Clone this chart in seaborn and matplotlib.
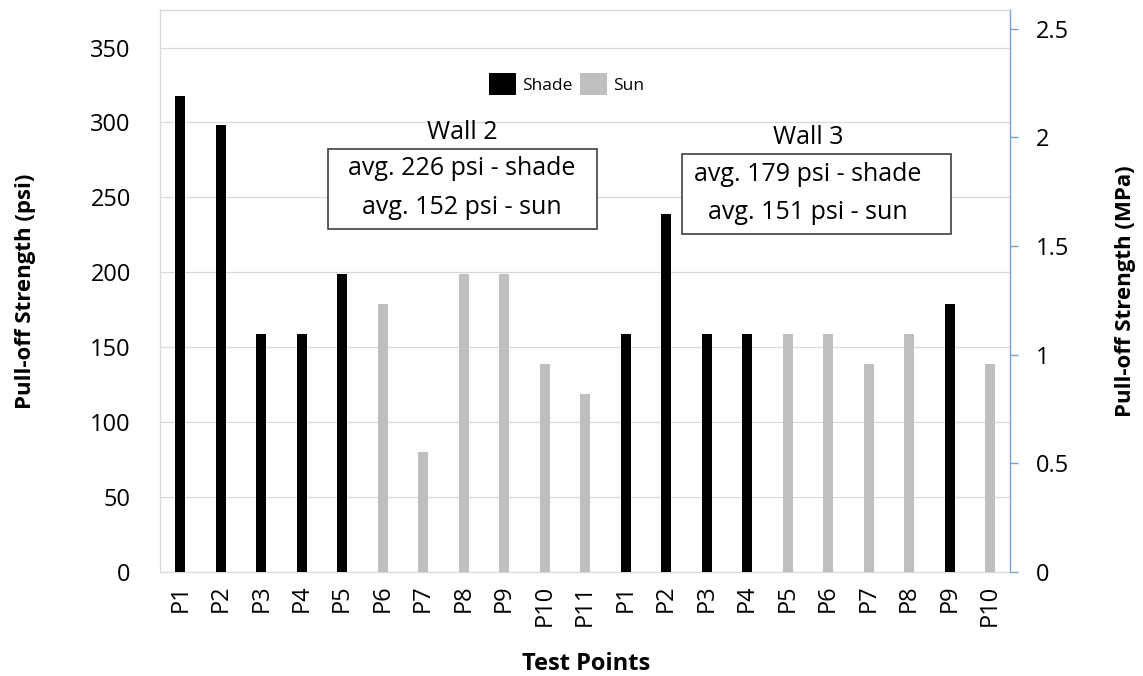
import matplotlib
matplotlib.use("Agg")
import matplotlib.pyplot as plt
from matplotlib.patches import Patch, Rectangle
import pandas as pd
import seaborn as sns

# Test points on Wall 2 (P1-P11) followed by Wall 3 (P1-P10)
point_labels = ["P1", "P2", "P3", "P4", "P5", "P6", "P7", "P8", "P9", "P10", "P11",
                "P1", "P2", "P3", "P4", "P5", "P6", "P7", "P8", "P9", "P10"]
strength_psi = [318, 298, 159, 159, 199, 179, 80, 199, 199, 139, 119,
                159, 239, 159, 159, 159, 159, 139, 159, 179, 139]
exposure = ["Shade", "Shade", "Shade", "Shade", "Shade", "Sun", "Sun", "Sun", "Sun", "Sun", "Sun",
            "Shade", "Shade", "Shade", "Shade", "Sun", "Sun", "Sun", "Sun", "Shade", "Sun"]
psi_ticks = [0, 50, 100, 150, 200, 250, 300, 350]
mpa_ticks = [0, 0.5, 1, 1.5, 2, 2.5]
mpa_tick_labels = ["0", "0.5", "1", "1.5", "2", "2.5"]
wall_titles = ["Wall 2", "Wall 3"]
wall_lines = [["avg. 226 psi - shade", "avg. 152 psi - sun"],
              ["avg. 179 psi - shade", "avg. 151 psi - sun"]]
PSI_PER_MPA = 145.038

sns.set_theme(style="white")
plt.rcParams["font.family"] = ["Open Sans", "DejaVu Sans"]
plt.rcParams["text.color"] = "black"
plt.rcParams["axes.labelcolor"] = "black"

df = pd.DataFrame({"pos": range(len(point_labels)),
                   "psi": strength_psi,
                   "exposure": exposure})

colors = {"Shade": "#000000", "Sun": "#bfbfbf"}
grid_gray = "#d9d9d9"
axis_blue = "#7a9fd4"

fig, ax = plt.subplots(figsize=(11.43, 6.76), dpi=100)
fig.subplots_adjust(left=0.140, right=0.884, bottom=0.154, top=0.985)

sns.barplot(data=df, x="pos", y="psi", hue="exposure", hue_order=["Shade", "Sun"],
            palette=colors, dodge=False, width=0.25, saturation=1,
            linewidth=0, legend=False, ax=ax, zorder=3)

ax.set_ylim(0, 375)
ax.set_yticks(psi_ticks)
ax.yaxis.grid(True, color=grid_gray, linewidth=0.9, zorder=0)
ax.set_axisbelow(True)
ax.set_xticks(range(len(point_labels)))
ax.set_xticklabels(point_labels, rotation=90, fontsize=17)
ax.tick_params(axis="y", labelsize=17, length=0, pad=21, labelcolor="black")
ax.tick_params(axis="x", length=0, pad=9, labelcolor="black")
for side in ["left", "bottom", "top"]:
    ax.spines[side].set_color(grid_gray)
    ax.spines[side].set_linewidth(0.9)
ax.spines["right"].set_visible(False)

ax.set_xlabel("Test Points", fontsize=17, fontweight="bold")
ax.xaxis.set_label_coords(0.501, -0.142)
ax.set_ylabel("Pull-off Strength (psi)", fontsize=16, fontweight="bold")
ax.yaxis.set_label_coords(-0.146, 0.5)

# Secondary axis in MPa, scaled to the psi axis
ax2 = ax.twinx()
ax2.set_ylim(0, 375 / PSI_PER_MPA)
ax2.set_yticks(mpa_ticks)
ax2.set_yticklabels(mpa_tick_labels)
ax2.tick_params(axis="y", labelsize=17, direction="out", length=6, width=1,
                color=axis_blue, labelcolor="black", pad=12)
for side in ["left", "bottom", "top"]:
    ax2.spines[side].set_visible(False)
ax2.spines["right"].set_color(axis_blue)
ax2.spines["right"].set_linewidth(1.0)
ax2.set_ylabel("Pull-off Strength (MPa)", fontsize=16, fontweight="bold")
ax2.yaxis.set_label_coords(1.123, 0.5)

# Legend
handles = [Patch(facecolor=colors["Shade"], edgecolor="none"),
           Patch(facecolor=colors["Sun"], edgecolor="none")]
ax.legend(handles, ["Shade", "Sun"], loc="center", bbox_to_anchor=(0.478, 0.868),
          ncol=2, frameon=False, fontsize=12.5, handlelength=1.55, handleheight=1.55,
          handletextpad=0.35, columnspacing=0.45)

# Wall summaries: title above a framed two-line note
title_pos = [(6.96, 293), (15.5, 290)]
note_x = [6.96, 15.5]
note_line_y = [(269, 243), (265, 240)]
box_x = [(3.65, 10.30), (12.40, 19.04)]
box_y = [(228.7, 282.0), (225.3, 279.3)]
for i in range(2):
    ax.text(*title_pos[i], wall_titles[i], ha="center", va="center", fontsize=18, zorder=6)
    x0, x1 = box_x[i]
    y0, y1 = box_y[i]
    ax.add_patch(Rectangle((x0, y0), x1 - x0, y1 - y0, facecolor="white",
                           edgecolor="#404040", linewidth=1.2, zorder=5))
    for line, y in zip(wall_lines[i], note_line_y[i]):
        ax.text(note_x[i], y, line, ha="center", va="center", fontsize=18, zorder=6)

fig.savefig("out.png", dpi=100)
